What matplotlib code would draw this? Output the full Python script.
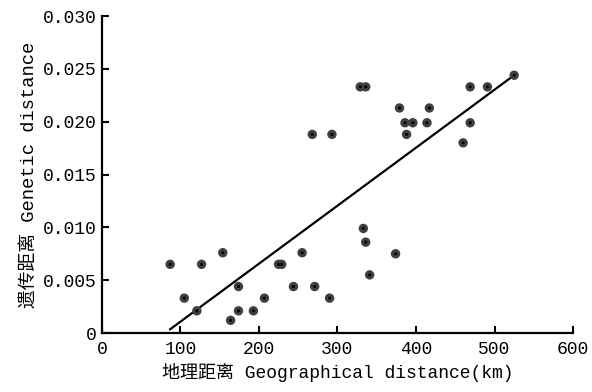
import numpy as np
import matplotlib
matplotlib.use('Agg')
import matplotlib.pyplot as plt

# geographic distance (km) vs genetic distance
geo_km = [87, 105, 121, 127, 154, 164, 174, 174, 193, 207,
          225, 229, 244, 255, 268, 271, 290, 293, 329, 336,
          333, 336, 341, 374, 379, 386, 388, 396, 414, 417,
          460, 469, 469, 491, 525]
gen_dist = [0.0065, 0.0033, 0.0021, 0.0065, 0.0076, 0.0012, 0.0044, 0.0021, 0.0021, 0.0033,
            0.0065, 0.0065, 0.0044, 0.0076, 0.0188, 0.0044, 0.0033, 0.0188, 0.0233, 0.0233,
            0.0099, 0.0086, 0.0055, 0.0075, 0.0213, 0.0199, 0.0188, 0.0199, 0.0199, 0.0213,
            0.0180, 0.0233, 0.0199, 0.0233, 0.0244]

x_ticks = [0, 100, 200, 300, 400, 500, 600]
y_ticks = [0, 0.005, 0.010, 0.015, 0.020, 0.025, 0.030]
y_tick_labels = ['0', '0.005', '0.010', '0.015', '0.020', '0.025', '0.030']

plt.rcParams['font.family'] = ['Liberation Mono', 'Noto Sans CJK SC']

fig = plt.figure(figsize=(5.92, 3.92), dpi=100)
ax = fig.add_axes([0.172, 0.1505, 0.796, 0.8085])

x = np.array(geo_km)
y = np.array(gen_dist)

# regression line over the data range
k, b = np.polyfit(x, y, 1)
xl = np.array([x.min(), x.max()])
ax.plot(xl, k * xl + b, color='black', lw=1.6, zorder=2)

ax.scatter(x, y, s=46, color='#433f3f', edgecolors='none', zorder=3)
ax.scatter(x, y, s=5, color='black', edgecolors='none', zorder=4)

ax.set_xlim(0, 600)
ax.set_ylim(0, 0.030)
ax.set_xticks(x_ticks)
ax.set_yticks(y_ticks)
ax.set_yticklabels(y_tick_labels)
ax.tick_params(direction='in', length=5, width=1.5, labelsize=13)
ax.tick_params(axis='x', pad=6)

for side in ['top', 'right']:
    ax.spines[side].set_visible(False)
for side in ['left', 'bottom']:
    ax.spines[side].set_linewidth(1.6)

ax.set_xlabel('地理距离 Geographical distance(km)', fontsize=13, labelpad=3)
ax.set_ylabel('遗传距离 Genetic distance', fontsize=13.5, labelpad=3)

fig.savefig('out.png', dpi=100)
